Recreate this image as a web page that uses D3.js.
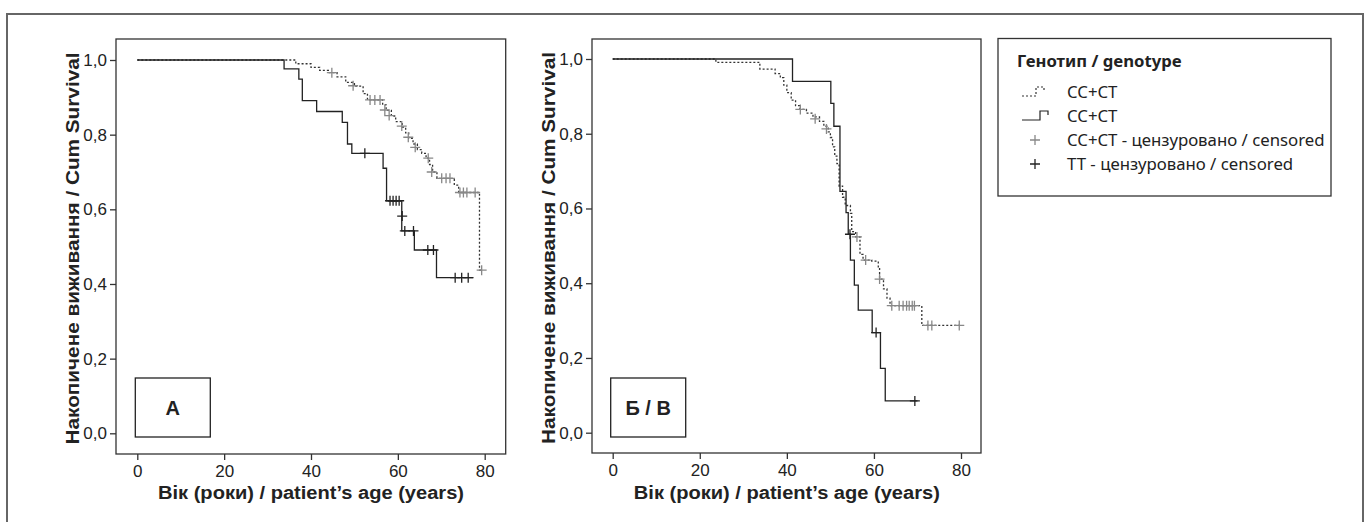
<!DOCTYPE html>
<html>
<head>
<meta charset="utf-8">
<script src="https://d3js.org/d3.v7.min.js"></script>
<style>
  body { margin: 0; background: #fff; }
  svg { display: block; }
</style>
</head>
<body>
<div id="chart"></div>
<script>
// ---- data ----
const ageTicks = [0, 20, 40, 60, 80];
const survTicks = [0, 0.2, 0.4, 0.6, 0.8, 1.0];

// panel A: CC+CT (dashed) and TT (solid), [age, survival]
const ccA = [[0,1],[36.5,0.99],[40,0.98],[42,0.972],[44,0.966],[46,0.955],[48,0.94],[50,0.93],
  [52,0.91],[53,0.893],[56.5,0.88],[57.3,0.865],[58.5,0.85],[59.5,0.835],[61,0.82],[61.8,0.805],
  [62.5,0.79],[63.5,0.775],[64.5,0.76],[65.5,0.75],[66.5,0.737],[67.3,0.72],[68,0.7],[69,0.683],
  [73,0.665],[74,0.645],[78.8,0.437],[79.3,0.437]];
const ccACens = [[44.8,0.966],[49.7,0.931],[53.6,0.893],[54.7,0.893],[55.9,0.893],[57,0.866],
  [58,0.851],[60.9,0.823],[62.4,0.793],[64,0.766],[67,0.737],[67.8,0.7],[70.1,0.683],[71.1,0.683],
  [72,0.683],[74.3,0.645],[75.1,0.645],[75.9,0.645],[77.8,0.645],[79.3,0.437]];
const ttA = [[0,1],[33.8,0.976],[37.2,0.949],[38,0.891],[41.3,0.862],[47.2,0.833],[48.4,0.775],
  [49.4,0.75],[56.6,0.71],[57.4,0.623],[60.9,0.542],[63.8,0.491],[68.9,0.417],[77.4,0.417]];
const ttACens = [[52.4,0.75],[58.2,0.623],[58.9,0.623],[59.6,0.623],[60.3,0.623],[61,0.582],
  [61.6,0.542],[63.6,0.542],[66.9,0.491],[68.2,0.491],[73.2,0.417],[74.7,0.417],[76.2,0.417]];

// panel Б / В
const ccB = [[0,1],[23.7,0.991],[33.8,0.973],[37.3,0.961],[38.5,0.95],[39.3,0.93],[40,0.91],
  [41,0.89],[42,0.875],[43,0.865],[44.5,0.855],[46,0.845],[47.5,0.833],[48.5,0.82],[49.5,0.805],
  [50,0.79],[50.5,0.765],[51,0.74],[51.5,0.72],[52,0.66],[52.8,0.63],[53.4,0.608],[54.6,0.587],
  [54.9,0.538],[55.8,0.524],[56.8,0.477],[57.5,0.462],[59.5,0.459],[61,0.444],[61.3,0.411],
  [62.2,0.385],[63,0.36],[63.7,0.34],[71,0.287],[79.6,0.287]];
const ccBCens = [[43.1,0.865],[46.5,0.84],[49.1,0.813],[56.1,0.524],[58.1,0.462],[61.3,0.411],
  [64.1,0.34],[65.8,0.34],[66.7,0.34],[67.5,0.34],[68.1,0.34],[68.8,0.34],[69.3,0.34],
  [72.4,0.287],[73.3,0.287],[79.6,0.287]];
const ttB = [[0,1],[41.3,0.94],[50.1,0.881],[50.8,0.82],[52.2,0.646],[53.6,0.589],[54.1,0.531],
  [54.6,0.462],[55.5,0.395],[56.4,0.328],[59.6,0.268],[61.5,0.172],[62.6,0.085],[70,0.085]];
const ttBCens = [[54.5,0.531],[60.5,0.268],[69.4,0.085]];

const panelLabels = ["A", "Б / В"];
const xTitle = "Вік (роки) / patient’s age (years)";
const yTitle = "Накопичене виживання / Cum Survival";
const legendTitle = "Генотип / genotype";
const legendItems = ["CC+CT", "CC+CT", "CC+CT - цензуровано / censored", "TT - цензуровано / censored"];

// ---- layout ----
const width = 1369, height = 522;
const narrow = "'Liberation Sans Narrow', 'Arial Narrow', 'Liberation Sans', sans-serif";
const boldFont = "'Liberation Sans', Arial, sans-serif";
const legendFont = "'Noto Sans', 'Open Sans', sans-serif";

const svg = d3.select("#chart").append("svg")
  .attr("width", width)
  .attr("height", height);

// outer frame (no bottom edge in the crop)
svg.append("path")
  .attr("d", "M7,522 V14 H1363 V522")
  .attr("fill", "none")
  .attr("stroke", "#666")
  .attr("stroke-width", 2);

const panels = [
  { frame: [116, 39, 505.7, 454], xr: [137.3, 484.7], yr: [433.3, 60], cc: ccA, ccC: ccACens, tt: ttA, ttC: ttACens, label: panelLabels[0] },
  { frame: [592, 39, 981, 453], xr: [612.7, 961], yr: [432.7, 59], cc: ccB, ccC: ccBCens, tt: ttB, ttC: ttBCens, label: panelLabels[1] }
];

const fmt = d => d3.format(".1f")(d).replace(".", ",");

function cross(g, pts, x, y, color) {
  g.selectAll(null)
    .data(pts)
    .enter()
    .append("path")
    .attr("d", d => {
      const cx = x(d[0]), cy = y(d[1]);
      return `M${cx - 5},${cy}H${cx + 5}M${cx},${cy - 5}V${cy + 5}`;
    })
    .attr("stroke", color)
    .attr("stroke-width", 1.3)
    .attr("fill", "none");
}

panels.forEach(p => {
  const [fx0, fy0, fx1, fy1] = p.frame;
  const x = d3.scaleLinear().domain([0, 80]).range(p.xr);
  const y = d3.scaleLinear().domain([0, 1]).range(p.yr);
  const g = svg.append("g");

  g.append("rect")
    .attr("x", fx0).attr("y", fy0)
    .attr("width", fx1 - fx0).attr("height", fy1 - fy0)
    .attr("fill", "none")
    .attr("stroke", "#333")
    .attr("stroke-width", 1.3);

  // axes
  const yAxis = g.append("g")
    .attr("transform", `translate(${fx0},0)`)
    .call(d3.axisLeft(y).tickValues(survTicks).tickFormat(fmt).tickSize(6).tickPadding(3));
  const xAxis = g.append("g")
    .attr("transform", `translate(0,${fy1})`)
    .call(d3.axisBottom(x).tickValues(ageTicks).tickSize(6).tickPadding(5));
  [xAxis, yAxis].forEach(a => {
    a.select(".domain").remove();
    a.selectAll("line").attr("stroke", "#333").attr("stroke-width", 1.3);
    a.selectAll("text")
      .attr("fill", "#222")
      .style("font-family", narrow)
      .style("font-size", "17px");
  });

  // titles
  g.append("text")
    .attr("x", (p.xr[0] + p.xr[1]) / 2)
    .attr("y", 499)
    .attr("text-anchor", "middle")
    .attr("textLength", 306)
    .attr("lengthAdjust", "spacingAndGlyphs")
    .style("font-family", boldFont)
    .style("font-weight", "bold")
    .style("font-size", "18px")
    .attr("fill", "#222")
    .text(xTitle);
  g.append("text")
    .attr("transform", `translate(${fx0 - 37},${(fy0 + fy1) / 2 + 2}) rotate(-90)`)
    .attr("text-anchor", "middle")
    .attr("textLength", 392)
    .attr("lengthAdjust", "spacingAndGlyphs")
    .style("font-family", boldFont)
    .style("font-weight", "bold")
    .style("font-size", "18px")
    .attr("fill", "#222")
    .text(yTitle);

  // panel label box
  const bx = p.xr[0] - 2;
  g.append("rect")
    .attr("x", bx).attr("y", 378)
    .attr("width", 75).attr("height", 59)
    .attr("fill", "#fff")
    .attr("stroke", "#222")
    .attr("stroke-width", 1.3);
  g.append("text")
    .attr("x", bx + 37.5).attr("y", 415)
    .attr("text-anchor", "middle")
    .style("font-family", boldFont)
    .style("font-weight", "bold")
    .style("font-size", "20px")
    .attr("fill", "#222")
    .text(p.label);

  // curves
  const line = d3.line().x(d => x(d[0])).y(d => y(d[1])).curve(d3.curveStepAfter);
  g.append("path")
    .attr("d", line(p.cc))
    .attr("fill", "none")
    .attr("stroke", "#333")
    .attr("stroke-width", 1.3)
    .attr("stroke-dasharray", "2,2");
  g.append("path")
    .attr("d", line(p.tt))
    .attr("fill", "none")
    .attr("stroke", "#222")
    .attr("stroke-width", 1.3);

  cross(g, p.ccC, x, y, "#888");
  cross(g, p.ttC, x, y, "#222");
});

// ---- legend ----
const lg = svg.append("g");
lg.append("rect")
  .attr("x", 998).attr("y", 38.5)
  .attr("width", 333).attr("height", 157.5)
  .attr("fill", "#fff")
  .attr("stroke", "#333")
  .attr("stroke-width", 1.3);
lg.append("text")
  .attr("x", 1017).attr("y", 67)
  .style("font-family", legendFont)
  .style("font-weight", "bold")
  .style("font-size", "16.7px")
  .attr("fill", "#222")
  .text(legendTitle);

const rowY = [98, 122, 146, 170];
lg.selectAll(".ltext")
  .data(legendItems)
  .enter()
  .append("text")
  .attr("x", 1067)
  .attr("y", (d, i) => rowY[i])
  .style("font-family", legendFont)
  .style("font-size", "16.8px")
  .attr("fill", "#222")
  .text(d => d);

lg.append("path")
  .attr("d", `M1022,${rowY[0] - 2}H1036V${rowY[0] - 11}H1044V${rowY[0] - 7}`)
  .attr("fill", "none").attr("stroke", "#333").attr("stroke-width", 1.2)
  .attr("stroke-dasharray", "2,2");
lg.append("path")
  .attr("d", `M1022,${rowY[1] - 2}H1040V${rowY[1] - 11}H1048V${rowY[1] - 7}`)
  .attr("fill", "none").attr("stroke", "#222").attr("stroke-width", 1.2);
[["#888", rowY[2]], ["#222", rowY[3]]].forEach(([c, yy]) => {
  lg.append("path")
    .attr("d", `M1030,${yy - 6}H1040M1035,${yy - 11}V${yy - 1}`)
    .attr("stroke", c).attr("stroke-width", 1.3);
});
</script>
</body>
</html>
